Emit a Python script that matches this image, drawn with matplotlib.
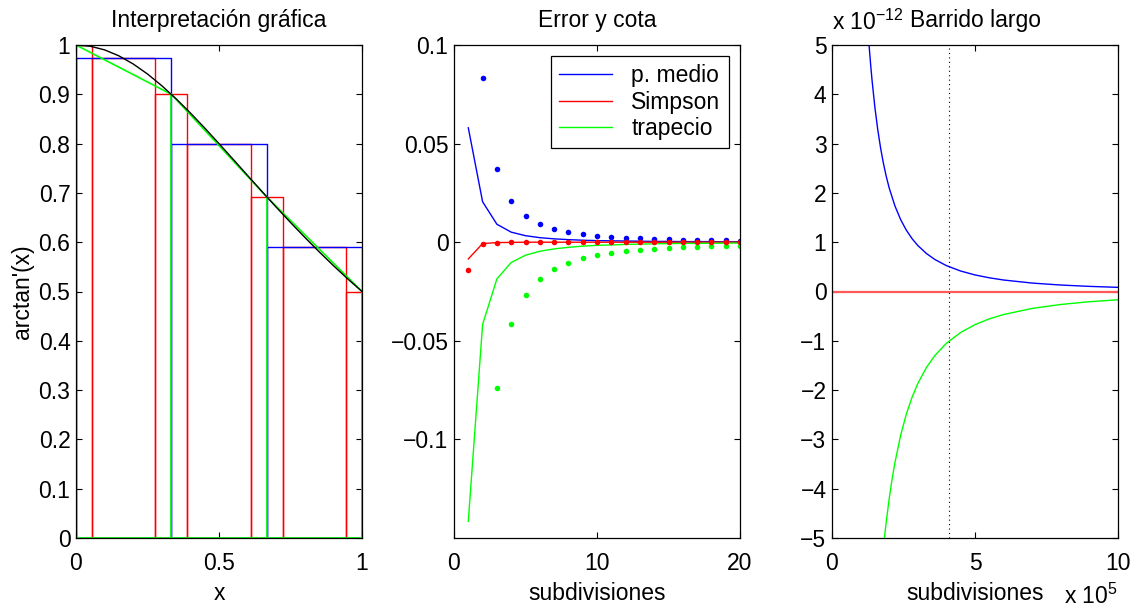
import numpy as np
import matplotlib
matplotlib.use("Agg")
import matplotlib.pyplot as plt
from matplotlib.ticker import FuncFormatter

plt.rcParams['font.family'] = ['Liberation Sans', 'DejaVu Sans']
plt.rcParams['font.size'] = 16.5
plt.rcParams['axes.titlesize'] = 16.5
plt.rcParams['axes.unicode_minus'] = True

# ---- panel 1: interpretación gráfica ----
curva_x = [0.0, 0.05, 0.1, 0.15, 0.2, 0.25, 0.3, 0.35, 0.4, 0.45, 0.5,
           0.55, 0.6, 0.65, 0.7, 0.75, 0.8, 0.85, 0.9, 0.95, 1.0]
curva_y = [1.0, 0.9975, 0.9901, 0.978, 0.9615, 0.9412, 0.9174, 0.8909, 0.8621, 0.8316, 0.8,
           0.7678, 0.7353, 0.703, 0.6711, 0.64, 0.6098, 0.5806, 0.5525, 0.5256, 0.5]

nodos_x = [0.0, 1/3, 2/3, 1.0]
nodos_y = [1.0, 0.9, 0.692, 0.5]

medio_izq = [0.0, 1/3, 2/3]
medio_der = [1/3, 2/3, 1.0]
medio_alt = [0.973, 0.8, 0.59]

simp_izq = [0.0, 0.0556, 0.2778, 0.3889, 0.6111, 0.7222, 0.9444]
simp_der = [0.0556, 0.2778, 0.3889, 0.6111, 0.7222, 0.9444, 1.0]
simp_alt = [1.0, 0.973, 0.9, 0.8, 0.692, 0.59, 0.5]

# ---- panel 2: error y cota ----
n = list(range(1, 21))
cota_medio = [0.058, 0.0205, 0.0091, 0.0051, 0.0033, 0.0023, 0.0017, 0.0013, 0.0010, 0.0008,
              0.0007, 0.0006, 0.0005, 0.0004, 0.0004, 0.0003, 0.0003, 0.0003, 0.0002, 0.0002]
cota_simp = [-0.0085, -0.0007, -0.0002, -0.0001, 0.0, 0.0, 0.0, 0.0, 0.0, 0.0,
             0.0, 0.0, 0.0, 0.0, 0.0, 0.0, 0.0, 0.0, 0.0, 0.0]
cota_trap = [-0.1415, -0.0417, -0.0186, -0.0103, -0.0066, -0.0046, -0.0034, -0.0026, -0.0020, -0.0016,
             -0.0014, -0.0011, -0.0010, -0.0008, -0.0007, -0.0006, -0.0006, -0.0005, -0.0005, -0.0004]

n_medio = list(range(2, 21))
err_medio = [0.0833, 0.0370, 0.0208, 0.0133, 0.0093, 0.0068, 0.0052, 0.0041, 0.0033, 0.0028,
             0.0023, 0.0020, 0.0017, 0.0015, 0.0013, 0.0012, 0.0010, 0.0009, 0.0008]
n_trap = list(range(3, 21))
err_trap = [-0.0740, -0.0416, -0.0266, -0.0185, -0.0136, -0.0104, -0.0082, -0.0067, -0.0055,
            -0.0046, -0.0039, -0.0034, -0.0030, -0.0026, -0.0023, -0.0021, -0.0018, -0.0017]
err_simp = [-0.0142, -0.0009, -0.0002, -0.0001, 0.0, 0.0, 0.0, 0.0, 0.0, 0.0,
            0.0, 0.0, 0.0, 0.0, 0.0, 0.0, 0.0, 0.0, 0.0, 0.0]

# ---- panel 3: barrido largo (x en 1e5, y en 1e-12) ----
largo_medio_x = [1.25, 1.3, 1.35, 1.4, 1.5, 1.6, 1.7, 1.8, 1.9, 2.0, 2.2, 2.4, 2.6, 2.8, 3.0,
                 3.3, 3.6, 4.0, 4.5, 5.0, 5.5, 6.0, 7.0, 8.0, 9.0, 10.0]
largo_medio_y = [5.376, 4.97, 4.609, 4.286, 3.733, 3.281, 2.907, 2.593, 2.327, 2.1, 1.736, 1.458,
                 1.243, 1.071, 0.933, 0.771, 0.648, 0.525, 0.415, 0.336, 0.278, 0.233, 0.171,
                 0.131, 0.104, 0.084]
largo_trap_x = [1.8, 1.85, 1.9, 2.0, 2.1, 2.2, 2.4, 2.6, 2.8, 3.0, 3.3, 3.6, 4.0, 4.5, 5.0,
                5.5, 6.0, 7.0, 8.0, 9.0, 10.0]
largo_trap_y = [-5.185, -4.909, -4.654, -4.2, -3.81, -3.471, -2.917, -2.485, -2.143, -1.867,
                -1.543, -1.296, -1.05, -0.83, -0.672, -0.555, -0.467, -0.343, -0.263, -0.207, -0.168]
largo_simp_x = [0.0, 10.0]
largo_simp_y = [0.0, 0.0]
marca_x = 4.1

AZUL, ROJO, VERDE = (0, 0, 1), (1, 0, 0), (0, 1, 0)


def fmt_g(v, pos):
    return ('%g' % v).replace('-', '\u2212')


def estilo(ax):
    ax.tick_params(direction='in', top=True, right=True, length=4, width=0.8)
    ax.tick_params(axis='x', pad=10)
    ax.tick_params(axis='y', pad=4)
    for s in ax.spines.values():
        s.set_linewidth(0.9)
    ax.xaxis.set_major_formatter(FuncFormatter(fmt_g))
    ax.yaxis.set_major_formatter(FuncFormatter(fmt_g))


fig = plt.figure(figsize=(11.36, 6.12), dpi=100)
W, H = 1136, 612
ancho, alto, abajo = 286 / W, 493 / H, 74 / H
ax1 = fig.add_axes([76 / W, abajo, ancho, alto])
ax2 = fig.add_axes([454 / W, abajo, ancho, alto])
ax3 = fig.add_axes([832 / W, abajo, ancho, alto])

# panel 1
for a, b, h in zip(simp_izq, simp_der, simp_alt):
    ax1.plot([a, a, b, b, a], [0, h, h, 0, 0], color=ROJO, lw=1.0)
for a, b, h in zip(medio_izq, medio_der, medio_alt):
    ax1.plot([a, a, b, b, a], [0, h, h, 0, 0], color=AZUL, lw=1.0)
ax1.plot([nodos_x[0]] + nodos_x + [nodos_x[-1], nodos_x[0]],
         [0] + nodos_y + [0, 0], color=VERDE, lw=1.2)
for xv, yv in zip(nodos_x[1:-1], nodos_y[1:-1]):
    ax1.plot([xv, xv], [0, yv], color=VERDE, lw=1.2)
ax1.plot(curva_x, curva_y, color='black', lw=1.0)
ax1.set_xlim(0, 1)
ax1.set_ylim(0, 1)
ax1.set_xticks([0, 0.5, 1])
ax1.set_yticks([i / 10 for i in range(11)])
ax1.set_xlabel('x', labelpad=5)
ax1.set_ylabel("arctan'(x)", labelpad=3)
ax1.set_title('Interpretación gráfica', pad=13)
estilo(ax1)

# panel 2
ax2.plot(n, cota_medio, color=AZUL, lw=1.0, label='p. medio')
ax2.plot(n, cota_simp, color=ROJO, lw=1.0, label='Simpson')
ax2.plot(n, cota_trap, color=VERDE, lw=1.0, label='trapecio')
ax2.plot(n_medio, err_medio, 'o', color=AZUL, ms=4, mew=0)
ax2.plot(n_trap, err_trap, 'o', color=VERDE, ms=4, mew=0)
ax2.plot(n, err_simp, 'o', color=ROJO, ms=4, mew=0)
ax2.set_xlim(0, 20)
ax2.set_ylim(-0.15, 0.1)
ax2.set_xticks([0, 10, 20])
ax2.set_yticks([-0.1, -0.05, 0, 0.05, 0.1])
ax2.set_xlabel('subdivisiones', labelpad=5)
ax2.set_title('Error y cota', pad=13)
leg = ax2.legend(loc='upper right', fancybox=False, framealpha=1, edgecolor='black',
                 handlelength=2.3, handletextpad=0.85, borderaxespad=0.5, borderpad=0.35,
                 labelspacing=0.15)
leg.get_frame().set_linewidth(0.9)
estilo(ax2)

# panel 3
ax3.plot(largo_simp_x, largo_simp_y, color=(1, 0.35, 0.35), lw=1.6)
ax3.plot(largo_medio_x, largo_medio_y, color=AZUL, lw=1.0)
ax3.plot(largo_trap_x, largo_trap_y, color=VERDE, lw=1.0)
ax3.axvline(marca_x, color='black', lw=0.8, ls=(0, (1, 3)))
ax3.set_xlim(0, 10)
ax3.set_ylim(-5, 5)
ax3.set_xticks([0, 5, 10])
ax3.set_yticks(list(range(-5, 6)))
ax3.set_xlabel('subdivisiones', labelpad=5)
ax3.set_title('Barrido largo', pad=13)
estilo(ax3)
fig.text(832 / W, 1 - 30 / H, r'x 10$^{\mathregular{-12}}$', ha='left', va='baseline')
fig.text(1118 / W, 1 - 604 / H, r'x 10$^{\mathregular{5}}$', ha='right', va='baseline')

fig.savefig('out.png', dpi=100)
